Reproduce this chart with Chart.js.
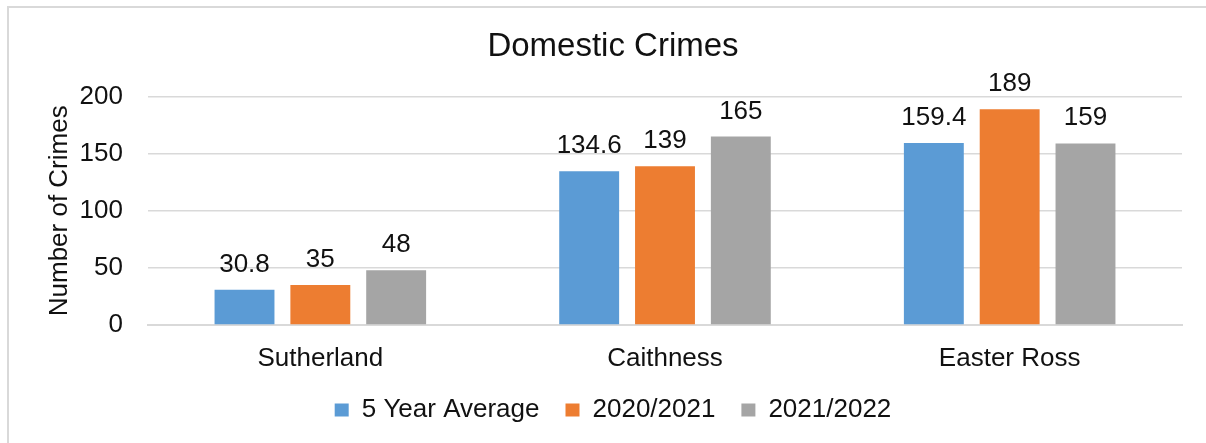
<!DOCTYPE html>
<html>
<head>
<meta charset="utf-8">
<script src="https://cdn.jsdelivr.net/npm/chart.js@4.4.0/dist/chart.umd.min.js"></script>
<style>
  html, body { margin: 0; padding: 0; background: #fff; overflow: hidden; }
  #frame { position: absolute; left: 7px; top: 6px; width: 1206px; height: 443px; border: 2px solid #d9d9d9; }
  #wrap { position: absolute; left: 0; top: 0; width: 1206px; height: 443px; }
</style>
</head>
<body>
<div id="frame"></div>
<div id="wrap"><canvas id="grafica"></canvas></div>
<script>
  var areas = ["Sutherland", "Caithness", "Easter Ross"];
  var media5 = [30.8, 134.6, 159.4];
  var anyo2021 = [35, 139, 189];
  var anyo2022 = [48, 165, 159];
  var ticksY = [0, 50, 100, 150, 200];

  var fuente = '"Liberation Sans", Arial, sans-serif';

  // etiquetas encima de cada barra
  var etiquetas = {
    id: 'etiquetas',
    afterDatasetsDraw: function(chart) {
      var ctx = chart.ctx;
      ctx.save();
      ctx.font = '26px ' + fuente;
      ctx.fillStyle = '#111';
      ctx.textAlign = 'center';
      ctx.textBaseline = 'alphabetic';
      chart.data.datasets.forEach(function(ds, i) {
        chart.getDatasetMeta(i).data.forEach(function(bar, j) {
          ctx.fillText(String(ds.data[j]), bar.x, bar.y - 18);
        });
      });
      ctx.restore();
    }
  };

  var ctx = document.getElementById("grafica").getContext("2d");
  var grafico = new Chart(ctx, {
    type: 'bar',
    data: {
      labels: areas,
      datasets: [
        { label: "5 Year Average", data: media5, backgroundColor: "#5B9BD5" },
        { label: "2020/2021", data: anyo2021, backgroundColor: "#ED7D31" },
        { label: "2021/2022", data: anyo2022, backgroundColor: "#A5A5A5" }
      ]
    },
    options: {
      responsive: true,
      maintainAspectRatio: false,
      animation: false,
      datasets: { bar: { categoryPercentage: 0.66, barPercentage: 0.79 } },
      layout: { padding: { left: 44, right: 24, top: 27, bottom: 10 } },
      plugins: {
        title: {
          display: true,
          text: "Domestic Crimes",
          color: '#111',
          font: { family: fuente, size: 33, weight: 'normal' },
          padding: { top: 0, bottom: 30 }
        },
        legend: {
          position: 'bottom',
          labels: {
            color: '#111',
            boxWidth: 14,
            boxHeight: 13,
            padding: 26,
            font: { family: fuente, size: 26 }
          }
        },
        tooltip: { enabled: false }
      },
      scales: {
        x: {
          grid: { display: false },
          border: { display: true, color: '#d9d9d9', width: 2 },
          ticks: { color: '#111', padding: 10, font: { family: fuente, size: 26 } },
          afterFit: function(axis) { axis.height = 46; }
        },
        y: {
          min: 0,
          max: 200,
          afterBuildTicks: function(axis) {
            axis.ticks = ticksY.map(function(v) { return { value: v }; });
          },
          afterFit: function(axis) { axis.width = 104; },
          grid: { color: '#d9d9d9', lineWidth: 1.5, drawTicks: false },
          border: { display: false },
          ticks: { color: '#111', padding: 25, font: { family: fuente, size: 26 } },
          title: {
            display: true,
            text: "Number of Crimes",
            color: '#111',
            padding: { top: 0, bottom: 0 },
            font: { family: fuente, size: 26 }
          }
        }
      }
    },
    plugins: [etiquetas]
  });
</script>
</body>
</html>
